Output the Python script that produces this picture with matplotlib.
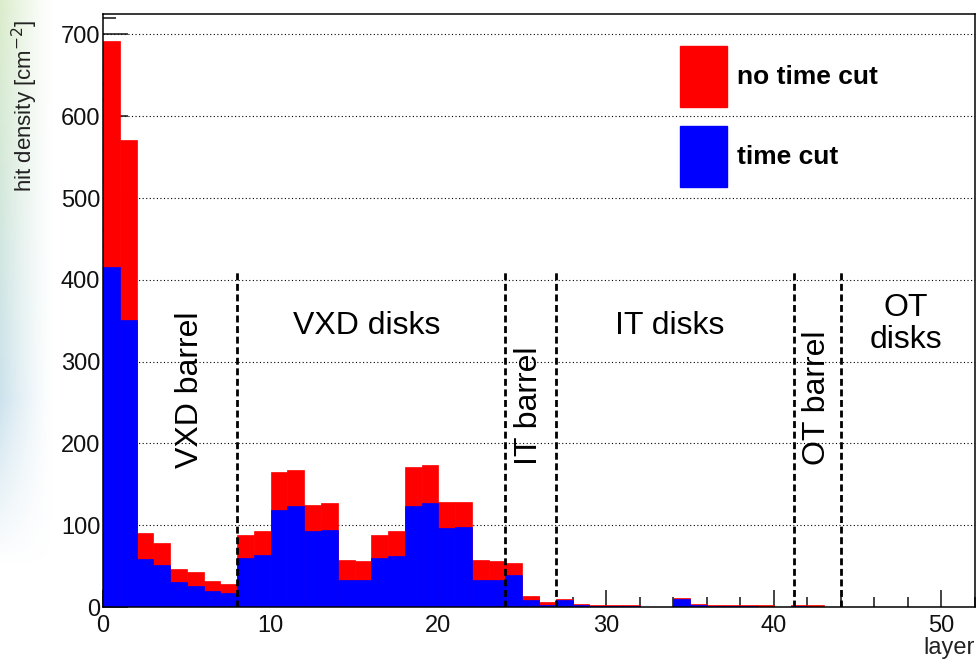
import numpy as np
import matplotlib
matplotlib.use("Agg")
import matplotlib.pyplot as plt
from matplotlib.ticker import MultipleLocator
from matplotlib.patches import Rectangle

plt.rcParams['font.family'] = ['Liberation Sans', 'DejaVu Sans']

# hit density per layer, without and with the timing cut
layers = np.arange(43)
no_time_cut = [692, 571, 91, 78, 47, 43, 32, 28, 88, 93,
               165, 168, 125, 127, 58, 56, 88, 93, 171, 173,
               128, 128, 58, 56, 54, 14, 6, 10, 4, 2,
               2, 2, 0, 0, 11.5, 4, 2, 2, 2, 2,
               0, 2, 2]
time_cut = [416, 351, 58.5, 51, 30, 26, 19.5, 16.7, 60, 64,
            119, 123, 93, 94.5, 33.5, 33.5, 60, 62, 123, 127,
            96.6, 98, 33.5, 33.5, 39, 8.3, 2.7, 8.3, 2, 1.5,
            1.5, 1.5, 0, 0, 9.5, 2.5, 1.5, 1.5, 1.5, 0,
            0, 1.5, 0]

# detector region boundaries and labels
boundaries = [8, 24, 27, 41.2, 44]
regions = [("VXD barrel", 5.2, 266, 90),
           ("VXD disks", 15.7, 344, 0),
           ("IT barrel", 25.4, 246, 90),
           ("IT disks", 33.8, 344, 0),
           ("OT barrel", 42.6, 256, 90),
           ("OT\ndisks", 47.9, 346, 0)]

fig = plt.figure(figsize=(9.79, 6.63), dpi=100)

# faint slide background peeking through at the left edge
bg = fig.add_axes([0, 0, 1, 1], zorder=-5)
bg.axis('off')
h, w = 663, 60
yy = np.linspace(0, 1, h)[:, None]
xx = np.linspace(0, 1, w)[None, :]
img = np.zeros((h, w, 4))
top = np.array([0.86, 0.93, 0.80])
mid = np.array([0.80, 0.89, 0.93])
mix = np.clip(yy / 0.6, 0, 1)[..., None]
img[..., :3] = top * (1 - mix) + mid * mix
img[..., 3] = np.clip(1 - xx / 0.9, 0, 1) ** 1.3 * np.clip((0.85 - yy) / 0.25, 0, 1)
bg.imshow(img, extent=[0, w, 663, 0], aspect='auto')
bg.set_xlim(0, 979)
bg.set_ylim(663, 0)

ax = fig.add_axes([103 / 979, 56 / 663, 872 / 979, 593 / 663])

ax.bar(layers, no_time_cut, width=1, align='edge', color='#ff0000',
       edgecolor='#ff0000', linewidth=0.5, zorder=2)
ax.bar(layers, time_cut, width=1, align='edge', color='#0000ff',
       edgecolor='#0000ff', linewidth=0.5, zorder=3)

ax.vlines(boundaries, 0, 410, colors='black', linewidth=2.0,
          linestyles=(0, (2.5, 1.3)), zorder=4)

for txt, x, y, rot in regions:
    ax.text(x, y, txt, rotation=rot, ha='center', va='center',
            fontsize=23, linespacing=1.1, zorder=5)

ax.set_xlim(0, 52)
ax.set_ylim(0, 725)
ax.xaxis.set_major_locator(MultipleLocator(10))
ax.xaxis.set_minor_locator(MultipleLocator(2))
ax.yaxis.set_major_locator(MultipleLocator(100))
ax.yaxis.set_minor_locator(MultipleLocator(20))
ax.grid(axis='y', which='major', color='black', linestyle=(0, (1, 2.2)),
        linewidth=0.8, zorder=1)
ax.set_axisbelow(True)

ax.tick_params(axis='both', which='both', direction='in', width=1.1,
               labelsize=17, colors='#111111')
ax.tick_params(axis='y', which='major', length=18, pad=2)
ax.tick_params(axis='y', which='minor', length=9)
ax.tick_params(axis='x', which='major', length=12, pad=6)
ax.tick_params(axis='x', which='minor', length=7.5)
for sp in ax.spines.values():
    sp.set_linewidth(1.1)
    sp.set_zorder(6)

ylab = ax.set_ylabel("hit density [cm$^{-2}$]", fontsize=16, color='#222222')
ylab.set_va('center')
ax.yaxis.set_label_coords(-0.09, 0.845)
ax.text(1.0, -0.069, "layer", transform=ax.transAxes, ha='right',
        va='center', fontsize=17, color='#222222')

# legend boxes
for (label, color, y0, y1) in [("no time cut", '#ff0000', 0.843, 0.946),
                               ("time cut", '#0000ff', 0.708, 0.811)]:
    ax.add_patch(Rectangle((0.6617, y0), 0.054, y1 - y0,
                           transform=ax.transAxes, facecolor=color,
                           edgecolor=color, zorder=7))
    ax.text(0.727, (y0 + y1) / 2, label, transform=ax.transAxes,
            ha='left', va='center', fontsize=19, fontweight='bold', zorder=7)

fig.savefig("out.png", dpi=100)
